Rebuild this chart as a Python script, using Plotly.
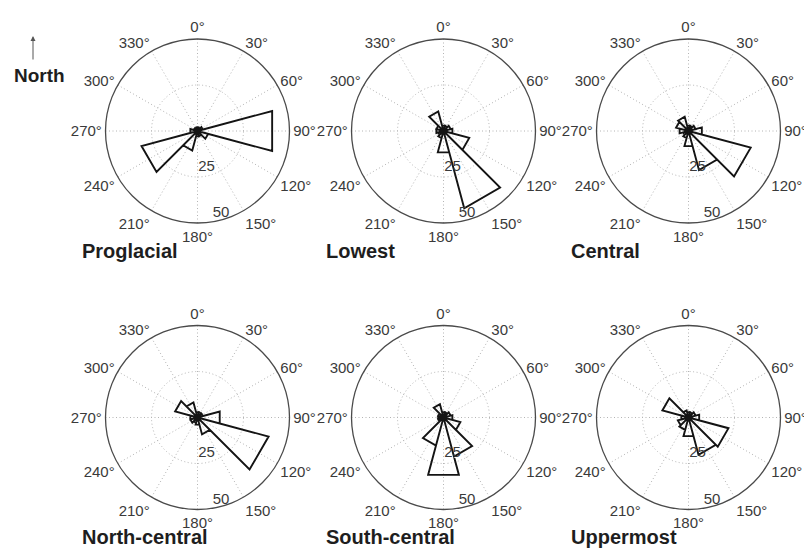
import plotly.graph_objects as go

# Rose diagrams of clast orientation (12 bins of 30°, centred on 0°, 30°, ... 330°)
bin_centers = [0, 30, 60, 90, 120, 150, 180, 210, 240, 270, 300, 330]
bin_width = 30

proglacial = [2, 2, 3, 42, 6, 3, 3, 11, 31.5, 4, 2, 2]
lowest = [3, 3, 4, 5, 14.5, 43.5, 12, 4, 3, 4, 4, 11]
central = [3, 3, 4, 7.5, 35, 22, 8.5, 4, 3, 5, 7, 8]
north_central = [3, 3, 3, 12.5, 40, 9.5, 4, 3, 4, 4, 12.6, 8.5]
south_central = [3, 3, 4, 5, 9.5, 22, 32.3, 15.8, 3, 3, 3, 7.5]
uppermost = [3, 3, 4, 6, 22.5, 21, 10.5, 7, 6, 4, 14.7, 4]

region_names = ["Proglacial", "Lowest", "Central",
                "North-central", "South-central", "Uppermost"]
region_counts = [proglacial, lowest, central,
                 north_central, south_central, uppermost]

angle_ticks = [0, 30, 60, 90, 120, 150, 180, 210, 240, 270, 300, 330]
angle_labels = [f"{a}°" for a in angle_ticks]
radial_ticks = [25, 50]

W, H = 804, 548
centers_x = [197.5, 443.5, 688.5]
centers_y = [131, 417.5]
radius = 92

FONT = "Liberation Sans, Arial, Helvetica, sans-serif"
LABEL_COLOR = "#3a3a3a"
GRID_COLOR = "#b4b4b4"
GRID_DASH = "1px,2.5px"


def rose_path(counts):
    """Triangular wedges from the origin, one per bin (MATLAB rose style)."""
    theta, r = [], []
    for c, v in zip(bin_centers, counts):
        lo, hi = c - bin_width / 2, c + bin_width / 2
        theta += [lo, lo, hi, hi]
        r += [0, v, v, 0]
    return theta, r


fig = go.Figure()
layout = dict(
    width=W, height=H,
    margin=dict(l=0, r=0, t=0, b=0),
    paper_bgcolor="white",
    showlegend=False,
    font=dict(family=FONT, color=LABEL_COLOR),
)

annotations = []
for i, (name, counts) in enumerate(zip(region_names, region_counts)):
    row, col = divmod(i, 3)
    cx, cy = centers_x[col], centers_y[row]
    key = "polar" if i == 0 else f"polar{i + 1}"
    layout[key] = dict(
        domain=dict(
            x=[(cx - radius) / W, (cx + radius) / W],
            y=[1 - (cy + radius) / H, 1 - (cy - radius) / H],
        ),
        bgcolor="white",
        angularaxis=dict(
            rotation=90, direction="clockwise",
            tickmode="array", tickvals=angle_ticks, ticktext=angle_labels,
            tickfont=dict(size=15, color=LABEL_COLOR, family=FONT),
            ticks="", showline=True, linecolor="#4a4a4a", linewidth=1.3,
            showgrid=True, gridcolor=GRID_COLOR, griddash=GRID_DASH, gridwidth=1,
        ),
        radialaxis=dict(
            range=[0, radial_ticks[-1]],
            tickmode="array", tickvals=radial_ticks[:-1],
            showticklabels=False, ticks="", showline=False,
            showgrid=True, gridcolor=GRID_COLOR, griddash=GRID_DASH, gridwidth=1,
        ),
    )
    theta, r = rose_path(counts)
    fig.add_trace(go.Scatterpolar(
        theta=theta, r=r, mode="lines",
        line=dict(color="#141414", width=1.9),
        subplot=key, hoverinfo="skip",
    ))
    # radial scale labels, set just inside each ring, south-south-east
    fig.add_trace(go.Scatterpolar(
        theta=[168 - 0.08 * t for t in radial_ticks],
        r=[t * 1.05 - 6 for t in radial_ticks],
        text=[str(t) for t in radial_ticks],
        mode="text", textposition="middle center",
        textfont=dict(size=15, color=LABEL_COLOR, family=FONT),
        subplot=key, hoverinfo="skip",
    ))
    # region name under each rose
    title_left = cx - 118 if col == 0 else cx - 120
    title_y = 251 if row == 0 else 537
    annotations.append(dict(
        text=f"<b>{name}</b>", x=title_left / W, y=1 - title_y / H,
        xref="paper", yref="paper", xanchor="left", yanchor="middle",
        showarrow=False, font=dict(size=20, color="#1e1e1e", family=FONT),
    ))

# north arrow
annotations.append(dict(
    text="", x=33 / W, y=1 - 36 / H, xref="paper", yref="paper",
    showarrow=True, ax=0, ay=25, axref="pixel", ayref="pixel",
    arrowhead=2, arrowsize=1, arrowwidth=1, arrowcolor="#555555",
))
annotations.append(dict(
    text="<b>North</b>", x=39 / W, y=1 - 76 / H, xref="paper", yref="paper",
    xanchor="center", yanchor="middle", showarrow=False,
    font=dict(size=19, color="#1e1e1e", family=FONT),
))

layout["annotations"] = annotations
fig.update_layout(**layout)
fig.write_html("out.html")
